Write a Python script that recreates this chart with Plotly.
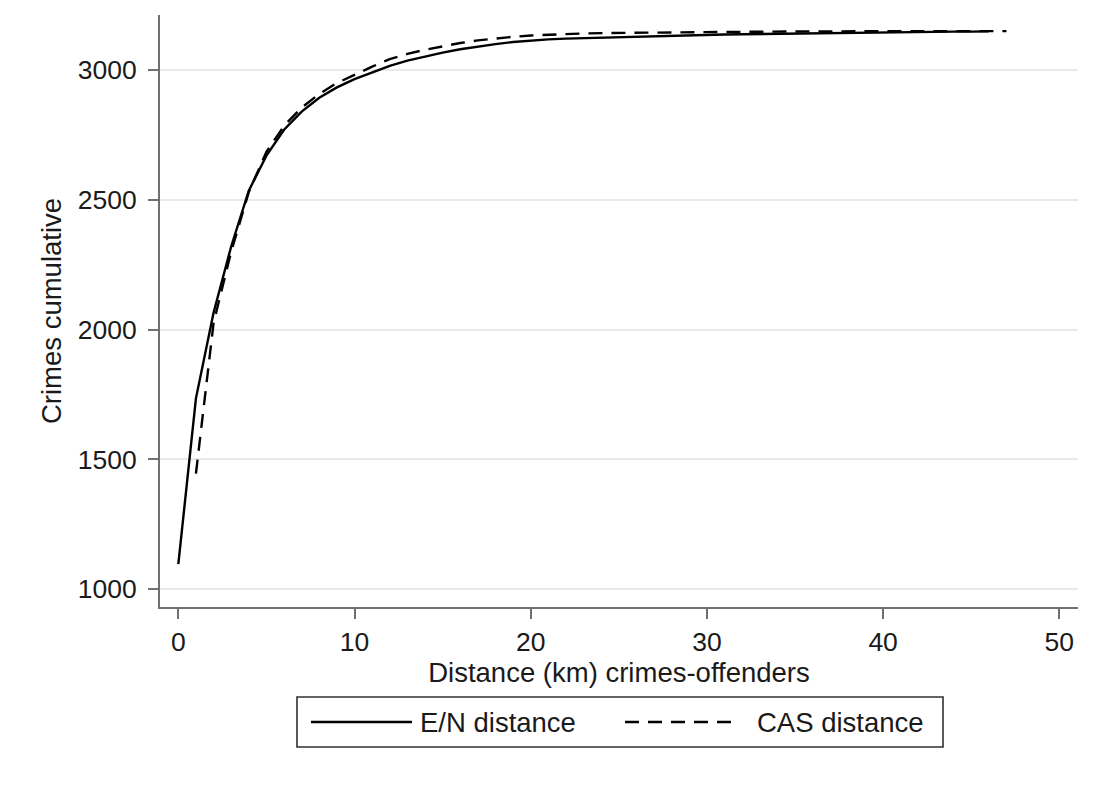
import plotly.graph_objects as go

# ---------------- data ----------------
en_dist = [0, 1, 2, 3, 4, 5, 6, 7, 8, 9, 10, 11, 12, 13, 14, 15, 16, 17, 18, 19,
           20, 21, 22, 23, 24, 25, 26, 27, 28, 29, 30, 31, 32, 33, 34, 35, 36, 37,
           38, 39, 40, 41, 42, 43, 44, 45, 46]
en_cum = [1096, 1735, 2065, 2320, 2535, 2670, 2770, 2840, 2893, 2933, 2965, 2992,
          3016, 3036, 3053, 3067, 3080, 3091, 3100, 3108, 3114, 3118, 3121, 3123,
          3125, 3127, 3129, 3131, 3133, 3135, 3136, 3137, 3138, 3139, 3140, 3141,
          3142, 3143, 3143, 3144, 3145, 3146, 3146, 3147, 3148, 3148, 3149]

cas_dist = [1, 2, 3, 4, 5, 6, 7, 8, 9, 10, 11, 12, 13, 14, 15, 16, 17, 18, 19, 20,
            21, 22, 23, 24, 25, 26, 27, 28, 29, 30, 31, 32, 33, 34, 35, 36, 37, 38,
            39, 40, 41, 42, 43, 44, 45, 46, 47]
cas_cum = [1445, 2025, 2300, 2530, 2685, 2785, 2855, 2908, 2950, 2983, 3013, 3042,
           3062, 3078, 3092, 3104, 3114, 3122, 3128, 3133, 3136, 3139, 3141, 3142,
           3143, 3144, 3145, 3145, 3146, 3146, 3147, 3147, 3148, 3148, 3148, 3149,
           3149, 3149, 3149, 3150, 3150, 3150, 3150, 3150, 3150, 3150, 3150]

x_ticks = [0, 10, 20, 30, 40, 50]
y_ticks = [1000, 1500, 2000, 2500, 3000]
series_names = ["E/N distance", "CAS distance"]
x_title = "Distance (km) crimes-offenders"
y_title = "Crimes cumulative"

# ---------------- style ----------------
FONT = "Liberation Sans, Arial, sans-serif"
TXT = "#1a1a1a"
AXC = "#707070"
W, H = 1105, 787
ML, MR, MT, MB = 160, 27, 15, 180
PW, PH = W - ML - MR, H - MT - MB
DASH = "14px,9px"
TICK_SIZE = 26.5
TEXT_SIZE = 27.5


def px2paper(px, py):
    return (px - ML) / PW, (H - MB - py) / PH


fig = go.Figure()
fig.add_trace(go.Scatter(x=en_dist, y=en_cum, mode="lines", name=series_names[0],
                         line=dict(color="black", width=2.4), showlegend=False))
fig.add_trace(go.Scatter(x=cas_dist, y=cas_cum, mode="lines", name=series_names[1],
                         line=dict(color="black", width=2.4, dash=DASH), showlegend=False))

axis_common = dict(showline=True, linecolor=AXC, linewidth=2, ticks="outside",
                   ticklen=10, tickwidth=2, tickcolor=AXC,
                   tickfont=dict(family=FONT, size=TICK_SIZE, color=TXT), zeroline=False)

fig.update_xaxes(range=[-1.04, 51.06], tickvals=x_ticks, showgrid=False,
                 title=dict(text=x_title, font=dict(family=FONT, size=TEXT_SIZE, color=TXT), standoff=4),
                 **axis_common)
fig.update_yaxes(range=[931, 3212], tickvals=y_ticks, showgrid=True,
                 gridcolor="#e9e9e9", gridwidth=1.5,
                 title=dict(text=y_title, font=dict(family=FONT, size=TEXT_SIZE, color=TXT), standoff=8),
                 ticklabelstandoff=6, **axis_common)

# ---------------- manual legend ----------------
shapes = []
annotations = []
bx0, by0 = px2paper(297, 697)
bx1, by1 = px2paper(943, 747)
shapes.append(dict(type="rect", xref="paper", yref="paper", x0=bx0, y0=by1, x1=bx1, y1=by0,
                   line=dict(color="#303030", width=1.6), fillcolor="white", layer="above"))
ly = 722
for (sx0, sx1, tx, name, dash) in [(311, 412, 418, series_names[0], "solid"),
                                   (625, 740, 755, series_names[1], DASH)]:
    a0, yy = px2paper(sx0, ly)
    a1, _ = px2paper(sx1, ly)
    shapes.append(dict(type="line", xref="paper", yref="paper", x0=a0, x1=a1, y0=yy, y1=yy,
                       line=dict(color="black", width=2.4, dash=dash), layer="above"))
    t0, _ = px2paper(tx, ly)
    annotations.append(dict(xref="paper", yref="paper", x=t0, y=yy, text=name,
                            showarrow=False, xanchor="left", yanchor="middle",
                            font=dict(family=FONT, size=TEXT_SIZE, color=TXT)))

fig.update_layout(width=W, height=H, margin=dict(l=ML, r=MR, t=MT, b=MB, pad=0),
                  paper_bgcolor="white", plot_bgcolor="white",
                  shapes=shapes, annotations=annotations, showlegend=False)

fig.write_html("out.html")
